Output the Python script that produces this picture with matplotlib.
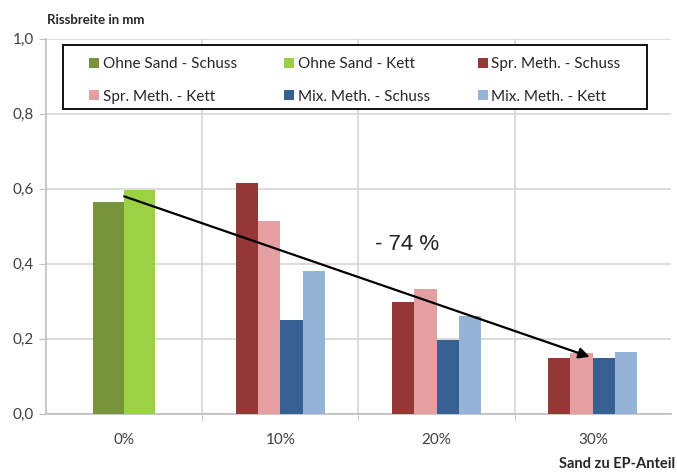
import matplotlib.pyplot as plt
from matplotlib.patches import Patch, Rectangle
from matplotlib.ticker import FixedLocator

# Data: crack width in mm per sand share
categories = ["0%", "10%", "20%", "30%"]
ohne_schuss = [0.565]
ohne_kett = [0.597]
spr_schuss = [0.615, 0.297, 0.148]
spr_kett = [0.514, 0.332, 0.163]
mix_schuss = [0.249, 0.198, 0.148]
mix_kett = [0.381, 0.262, 0.164]
y_ticks = [0.0, 0.2, 0.4, 0.6, 0.8, 1.0]
y_labels = ["0,0", "0,2", "0,4", "0,6", "0,8", "1,0"]

labels = ["Ohne Sand - Schuss", "Ohne Sand - Kett", "Spr. Meth. - Schuss",
          "Spr. Meth. - Kett", "Mix. Meth. - Schuss", "Mix. Meth. - Kett"]
colors = ["#77933C", "#9BD143", "#953735", "#E4A0A0", "#376092", "#95B3D7"]

plt.rcParams['font.family'] = ['Lato', 'DejaVu Sans']

fig = plt.figure(figsize=(6.77, 4.74), dpi=100)
ax = fig.add_axes([0.068, 0.127, 0.923, 0.791])

# group without sand: two wide bars
w0 = 0.2
ax.bar([0 - w0 / 2], ohne_schuss, width=w0, color=colors[0], zorder=3)
ax.bar([0 + w0 / 2], ohne_kett, width=w0, color=colors[1], zorder=3)

# groups with sand: four narrower bars each
w1 = 0.143
xs = [1, 2, 3]
for k, (vals, col) in enumerate(zip([spr_schuss, spr_kett, mix_schuss, mix_kett], colors[2:])):
    off = (k - 1.5) * w1
    ax.bar([x + off for x in xs], vals, width=w1, color=col, zorder=3)

ax.set_xlim(-0.5, 3.5)
ax.set_ylim(0, 1.0)
ax.set_yticks(y_ticks)
ax.set_yticklabels(y_labels)
ax.set_xticks(range(len(categories)))
ax.set_xticklabels(categories)
ax.xaxis.set_minor_locator(FixedLocator([0.5, 1.5, 2.5]))
ax.tick_params(axis='x', which='major', length=0, pad=14, labelsize=11, colors='#404040')
ax.tick_params(axis='x', which='minor', length=5, color='#BFBFBF')
ax.tick_params(axis='y', length=5, color='#BFBFBF', labelsize=11, colors='#404040')
ax.grid(axis='y', color='#D4D4D4', lw=1.2, zorder=0)
ax.grid(axis='x', which='minor', color='#D4D4D4', lw=1.2, zorder=0)
for s in ['top', 'right']:
    ax.spines[s].set_visible(False)
for s in ['left', 'bottom']:
    ax.spines[s].set_color('#BFBFBF')
    ax.spines[s].set_linewidth(1.2)

# trend arrow and reduction label
ax.annotate("", xy=(2.98, 0.152), xytext=(0.0, 0.58),
            arrowprops=dict(arrowstyle='-|>', color='black', lw=1.6,
                            mutation_scale=16, shrinkA=0, shrinkB=0), zorder=5)
ax.text(1.81, 0.452, "- 74 %", fontsize=16, ha='center', va='center', color='#222222',
        family=['Liberation Sans', 'DejaVu Sans'], zorder=6)

# legend box: white panel with dark frame, entries filled row-wise in three columns
ax.add_patch(Rectangle((0.027, 0.813), 0.935, 0.171, transform=ax.transAxes,
                       facecolor='white', edgecolor='#111111', lw=1.4, zorder=6))
handles = [Patch(facecolor=c, label=l) for c, l in zip(colors, labels)]
order = [0, 3, 1, 4, 2, 5]
leg = ax.legend([handles[i] for i in order], [labels[i] for i in order], ncol=3,
                loc='upper left', bbox_to_anchor=(0.069, 0.951), fontsize=11,
                frameon=False, handlelength=0.65, handleheight=0.65,
                handletextpad=0.25, columnspacing=3.1, borderpad=0.0,
                labelspacing=1.2, borderaxespad=0.0)
leg.set_zorder(7)
for t in leg.get_texts():
    t.set_color('#262626')

fig.text(0.069, 0.958, "Rissbreite in mm", fontsize=9.5, fontweight='bold', ha='left',
         va='center', color='#262626')
fig.text(0.997, 0.022, "Sand zu EP-Anteil", fontsize=10.5, fontweight='bold', ha='right',
         va='center', color='#262626')

fig.savefig("out.png", dpi=100)
